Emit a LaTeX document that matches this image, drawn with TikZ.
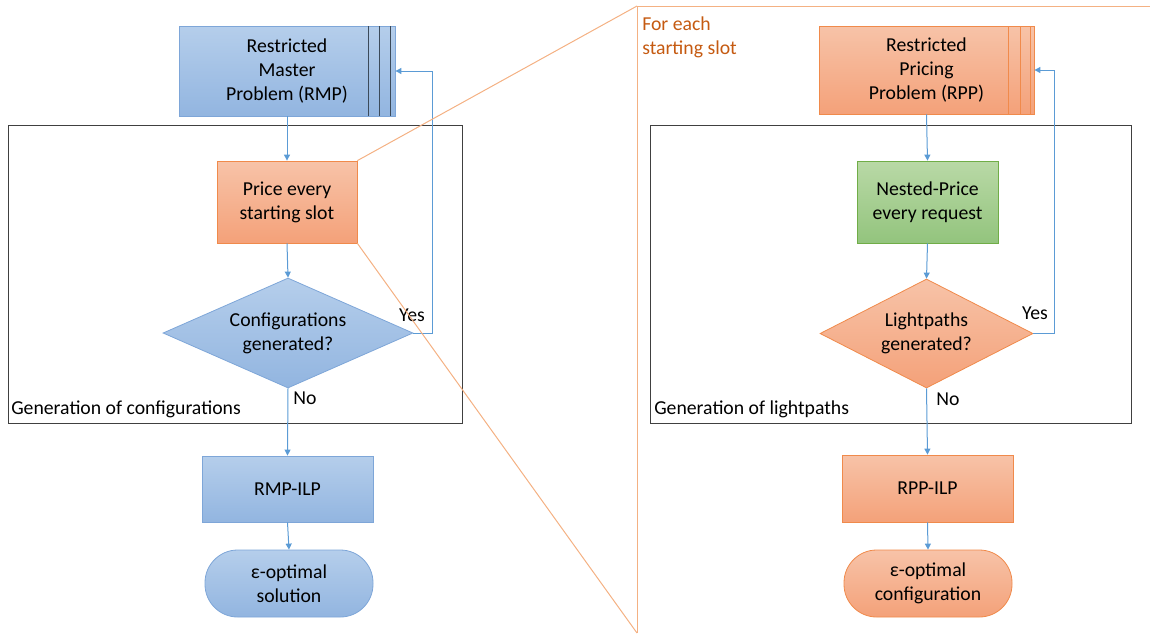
\documentclass[tikz,border=0pt]{standalone}
\usepackage{fontspec}
\setmainfont{Carlito}
\usetikzlibrary{shapes.geometric,arrows.meta}
\definecolor{btop}{HTML}{B5CEEB}
\definecolor{bbot}{HTML}{92B5E0}
\definecolor{bdraw}{HTML}{7EA6D8}
\definecolor{otop}{HTML}{F7C3A8}
\definecolor{obot}{HTML}{F4A179}
\definecolor{odraw}{HTML}{F08A4B}
\definecolor{gtop}{HTML}{B9D9A6}
\definecolor{gbot}{HTML}{93C47D}
\definecolor{gdraw}{HTML}{70AD47}
\definecolor{conn}{HTML}{5B9BD5}
\definecolor{zoomline}{HTML}{F4B183}
\definecolor{frame}{HTML}{404040}
\definecolor{otext}{HTML}{C55A11}
\definecolor{stackline}{HTML}{3B4A5A}
\begin{document}
\begin{tikzpicture}[x=0.75pt,y=-0.75pt,
  font=\fontsize{14.8pt}{18pt}\selectfont,
  bluebox/.style={draw=bdraw,line width=0.6pt,top color=btop,bottom color=bbot,inner sep=0pt,align=center},
  orangebox/.style={draw=odraw,line width=0.6pt,top color=otop,bottom color=obot,inner sep=0pt,align=center},
  greenbox/.style={draw=gdraw,line width=0.6pt,top color=gtop,bottom color=gbot,inner sep=0pt,align=center},
  dia/.style={diamond,inner sep=0pt},
  term/.style={rounded corners=24.5pt},
  txt/.style={align=center,inner sep=0pt},
  lbl/.style={inner sep=0pt},
  conn/.style={draw=conn,line width=0.75pt,-{Triangle[length=4.5pt,width=4.5pt]}},
  frm/.style={draw=frame,line width=0.75pt},
  zl/.style={draw=zoomline,line width=0.75pt}]
\useasboundingbox (0,0) rectangle (1150,633);

% frames
\draw[frm] (8,125) rectangle (462,423);
\draw[frm] (650,125) rectangle (1131,423);

% ---------- left ----------
\node[bluebox,minimum width=162pt,minimum height=67.5pt] (rmp) at (287,71) {Restricted\\Master\\Problem (RMP)};
\foreach \xx in {368,379,390} \draw[stackline,line width=0.6pt] (\xx,26) -- (\xx,116);
\node[orangebox,minimum width=105pt,minimum height=61.5pt] (price) at (287,202) {Price every\\starting slot};
\node[bluebox,dia,minimum width=187.5pt,minimum height=82.5pt] (d1) at (288,333) {};
\node[txt] at (d1) {Configurations\\generated?};
\node[bluebox,minimum width=128.25pt,minimum height=49.5pt] (ilp1) at (287.5,489) {RMP-ILP};
\node[bluebox,term,minimum width=126pt,minimum height=50.25pt] (t1) at (289,583.5) {ε-optimal\\solution};

\draw[conn] (rmp.south) -- (price.north);
\draw[conn] (price.south) -- (d1.north);
\draw[conn] (d1.south) -- (ilp1.north);
\draw[conn] (ilp1.south) -- (t1.north);
\draw[conn] (d1.east) -- (432,333) |- (rmp.east);
\node[lbl] (yes1) at (412,315) {Yes};
\node[lbl] (no1) at (305,398) {No};
\node[lbl,anchor=west] (gen1) at (11,409) {Generation of configurations};

% ---------- right ----------
\node[orangebox,minimum width=161.25pt,minimum height=66pt] (rpp) at (926.5,70) {Restricted\\Pricing\\Problem (RPP)};
\foreach \xx in {1008,1020,1030} \draw[odraw,line width=0.6pt] (\xx,26) -- (\xx,114);
\node[greenbox,minimum width=105.75pt,minimum height=61.5pt] (nested) at (927.5,202) {Nested-Price\\every request};
\node[orangebox,dia,minimum width=159.75pt,minimum height=81.75pt] (d2) at (926.5,333.5) {};
\node[txt] at (d2) {Lightpaths\\generated?};
\node[orangebox,minimum width=128.25pt,minimum height=50.25pt] (ilp2) at (927.5,488.5) {RPP-ILP};
\node[orangebox,term,minimum width=126pt,minimum height=50.25pt] (t2) at (928,583.5) {ε-optimal\\configuration};

\draw[conn] (rpp.south) -- (nested.north);
\draw[conn] (nested.south) -- (d2.north);
\draw[conn] (d2.south) -- (ilp2.north);
\draw[conn] (ilp2.south) -- (t2.north);
\draw[conn] (d2.east) -- (1054,333.5) |- (rpp.east);
\node[lbl] (yes2) at (1035,313) {Yes};
\node[lbl] (no2) at (948,399) {No};
\node[lbl,anchor=west] (gen2) at (654,409) {Generation of lightpaths};

% ---------- zoom lines ----------
\coordinate (ztop) at (637,6);
\coordinate (zbot) at (637,633);
\coordinate (zright) at (1150,6);
\draw[zl] (price.north east) -- (ztop);
\draw[zl] (price.south east) -- (zbot);
\draw[zl] (zright) -- (ztop) -- (zbot);
\node[lbl,anchor=base west,align=left,text=otext] (fe) at (642,54) {For each\\starting slot};
\end{tikzpicture}
\end{document}
